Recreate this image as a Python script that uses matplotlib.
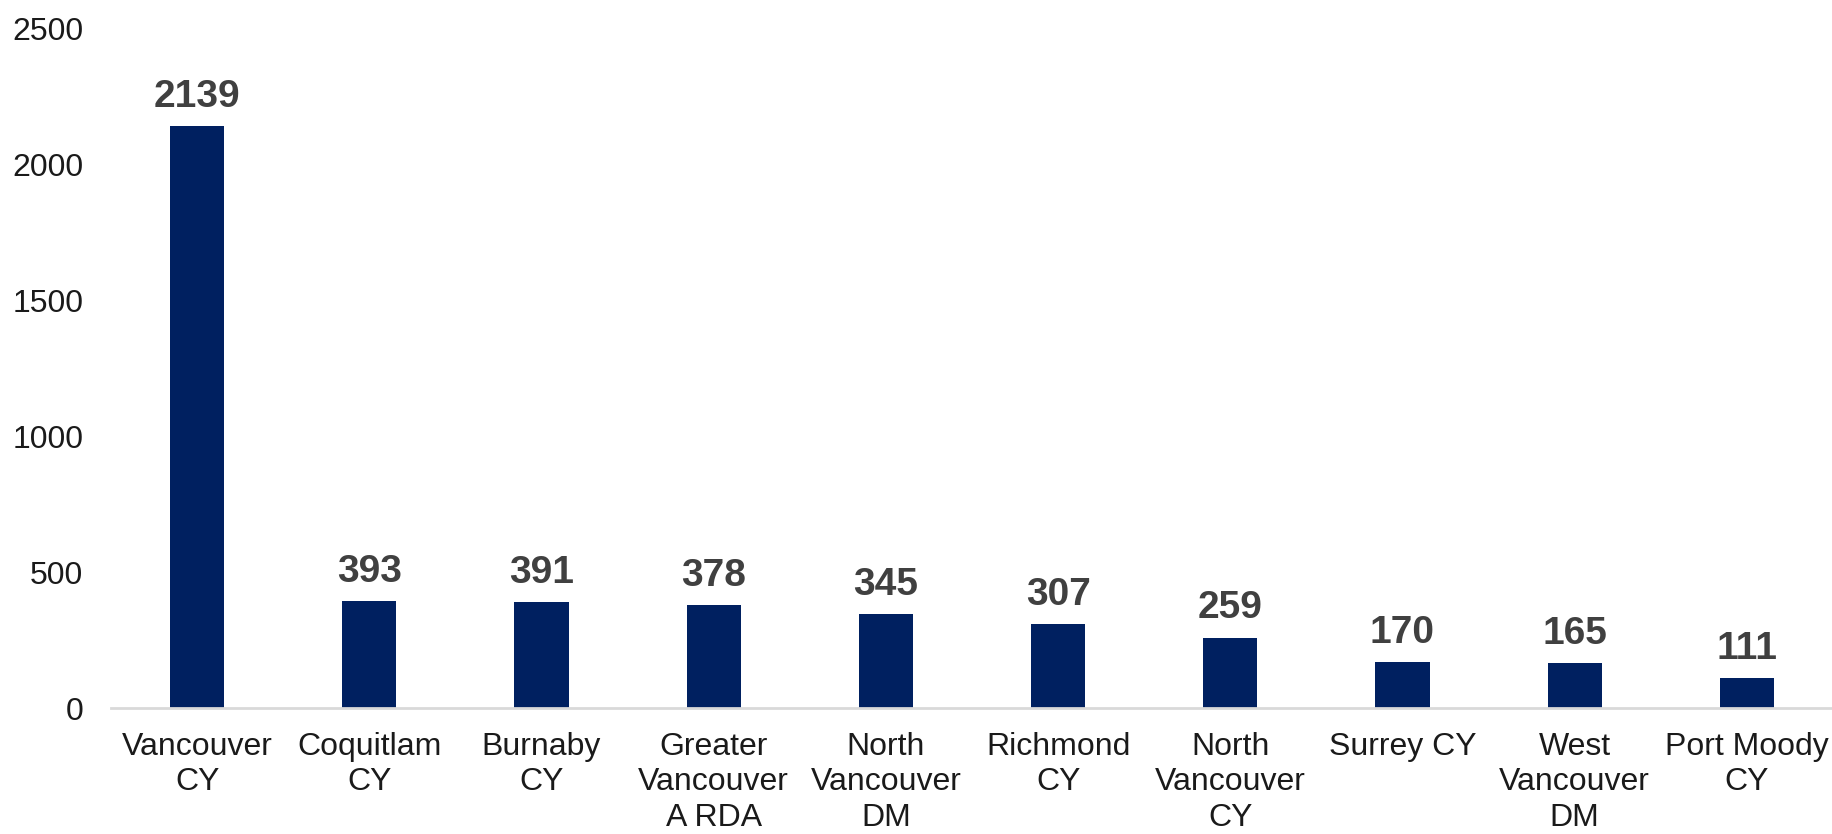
import matplotlib
matplotlib.use("Agg")
import matplotlib.pyplot as plt

categories = ["Vancouver\nCY", "Coquitlam\nCY", "Burnaby\nCY", "Greater\nVancouver\nA RDA",
              "North\nVancouver\nDM", "Richmond\nCY", "North\nVancouver\nCY", "Surrey CY",
              "West\nVancouver\nDM", "Port Moody\nCY"]
values = [2139, 393, 391, 378, 345, 307, 259, 170, 165, 111]
yticks = [0, 500, 1000, 1500, 2000, 2500]

plt.rcParams['font.family'] = ['Liberation Sans', 'DejaVu Sans']

fig = plt.figure(figsize=(18.33, 8.34), dpi=100)
ax = fig.add_axes([111/1833, (834-708)/834, (1833-111)/1833, (708-28)/834])

x = list(range(len(categories)))
bars = ax.bar(x, values, width=0.314, color='#002060', zorder=3)

ax.set_xlim(-0.5, len(categories) - 0.5)
ax.set_ylim(0, 2500)
ax.set_yticks(yticks)
ax.set_yticklabels([str(t) for t in yticks])
ax.set_xticks(x)
ax.set_xticklabels(categories, linespacing=1.24)

ax.tick_params(axis='x', length=0, pad=17, labelsize=23, colors='#1a1a1a')
ax.tick_params(axis='y', length=0, pad=20, labelsize=23, colors='#1a1a1a')

for s in ['top', 'right', 'left']:
    ax.spines[s].set_visible(False)
ax.spines['bottom'].set_color('#d9d9d9')
ax.spines['bottom'].set_linewidth(2)
ax.spines['bottom'].set_zorder(4)

for xi, v in zip(x, values):
    ax.annotate(str(v), (xi, v), xytext=(0, 8), textcoords='offset points',
                ha='center', va='bottom', fontsize=28, fontweight='bold', color='#404040')

fig.savefig('out.png', dpi=100)
